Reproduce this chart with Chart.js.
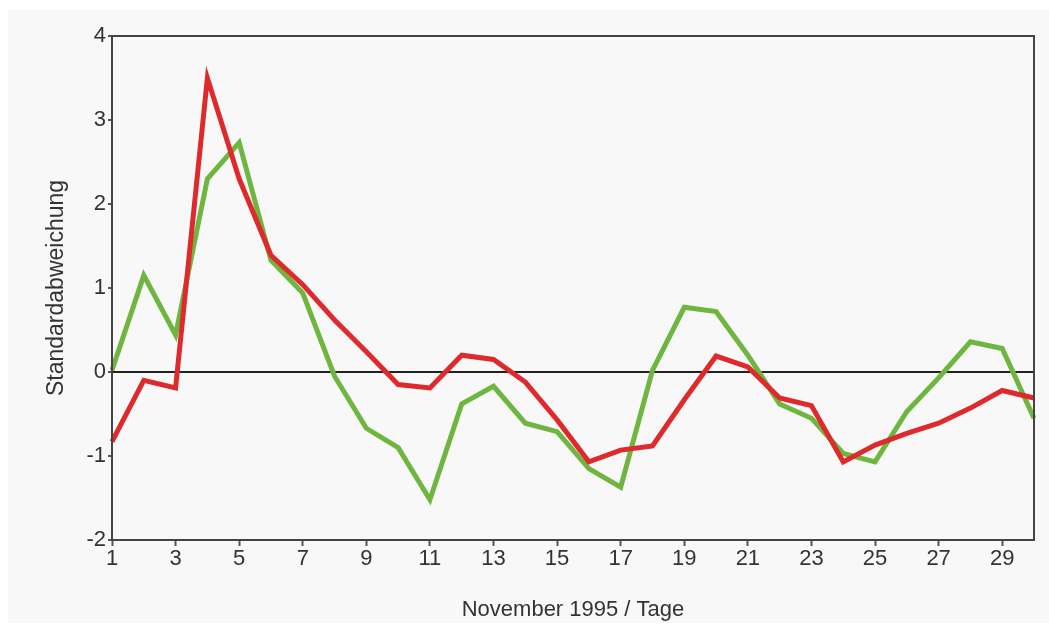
<!DOCTYPE html>
<html>
<head>
<meta charset="utf-8">
<script src="https://cdn.jsdelivr.net/npm/chart.js@4"></script>
<style>
  body { margin: 0; background: #fff; }
  #bg { position: absolute; left: 8px; top: 10px; width: 1041px; height: 613px; background: #f8f8f8; }
  #wrap { position: absolute; left: 0; top: 0; width: 1049px; height: 625px; }
</style>
</head>
<body>
<div id="bg"></div>
<div id="wrap"><canvas id="myChart"></canvas></div>
<script>
const days = ['1','2','3','4','5','6','7','8','9','10','11','12','13','14','15','16','17','18','19','20','21','22','23','24','25','26','27','28','29','30']
const redValues = [-0.83, -0.1, -0.19, 3.5, 2.3, 1.39, 1.04, 0.62, 0.24, -0.15, -0.19, 0.2, 0.15, -0.12, -0.57, -1.07, -0.93, -0.88, -0.33, 0.19, 0.06, -0.31, -0.4, -1.07, -0.87, -0.73, -0.61, -0.43, -0.22, -0.31]
const greenValues = [0.02, 1.15, 0.44, 2.3, 2.73, 1.33, 0.94, -0.05, -0.67, -0.9, -1.52, -0.38, -0.17, -0.61, -0.71, -1.15, -1.37, 0.02, 0.77, 0.72, 0.2, -0.38, -0.55, -0.97, -1.07, -0.47, -0.07, 0.36, 0.28, -0.55]
const yMin = -2
const yMax = 4

const frame = {
    id: 'frame',
    afterDraw(chart) {
        const a = chart.chartArea
        const c = chart.ctx
        c.save()
        c.strokeStyle = '#444'
        c.lineWidth = 2
        c.strokeRect(a.left, a.top, a.right - a.left, a.bottom - a.top)
        c.restore()
    }
}

function drawChart() {
    const ctx = document.getElementById('myChart')
    const font = "'Liberation Sans', Arial, sans-serif"

    const data = {
        labels: days,
        datasets: [{
            label: 'rot',
            data: redValues,
            borderColor: '#de2a2c',
            borderWidth: 5,
            pointRadius: 0,
            tension: 0
        }, {
            label: 'grün',
            data: greenValues,
            borderColor: '#6eb63f',
            borderWidth: 5,
            pointRadius: 0,
            tension: 0
        }]
    }

    const config = {
        type: 'line',
        data: data,
        options: {
            responsive: false,
            animation: false,
            layout: { padding: { left: 43, top: 36, right: 15, bottom: 0 } },
            plugins: { legend: { display: false }, tooltip: { enabled: false } },
            scales: {
                x: {
                    offset: false,
                    afterFit: (s) => { s.height = 85 },
                    border: { color: '#444', width: 2 },
                    grid: {
                        drawOnChartArea: false,
                        tickLength: 6,
                        tickWidth: 2,
                        tickColor: (c) => c.index % 2 === 0 ? '#555' : 'rgba(0,0,0,0)'
                    },
                    ticks: {
                        autoSkip: false,
                        maxRotation: 0,
                        padding: 0,
                        color: '#333',
                        font: { family: font, size: 22 },
                        callback: (v, i) => i % 2 === 0 ? days[i] : ''
                    },
                    title: {
                        display: true,
                        text: 'November 1995 / Tage',
                        color: '#333',
                        font: { family: font, size: 22 },
                        padding: { top: 0, bottom: 2 }
                    }
                },
                y: {
                    min: yMin,
                    max: yMax,
                    afterFit: (s) => { s.width = 69 },
                    border: { color: '#444', width: 2 },
                    grid: {
                        color: (c) => c.tick && c.tick.value === 0 ? '#222' : 'rgba(0,0,0,0)',
                        lineWidth: 2,
                        tickLength: 4,
                        tickColor: '#555'
                    },
                    ticks: {
                        stepSize: 1,
                        padding: 2,
                        color: '#333',
                        font: { family: font, size: 22 }
                    },
                    title: {
                        display: true,
                        text: 'Standardabweichung',
                        color: '#333',
                        font: { family: font, size: 23 },
                        padding: 0
                    }
                }
            }
        },
        plugins: [frame]
    }

    ctx.width = 1049
    ctx.height = 625
    new Chart(ctx, config)
}

document.addEventListener('DOMContentLoaded', drawChart)
</script>
</body>
</html>
